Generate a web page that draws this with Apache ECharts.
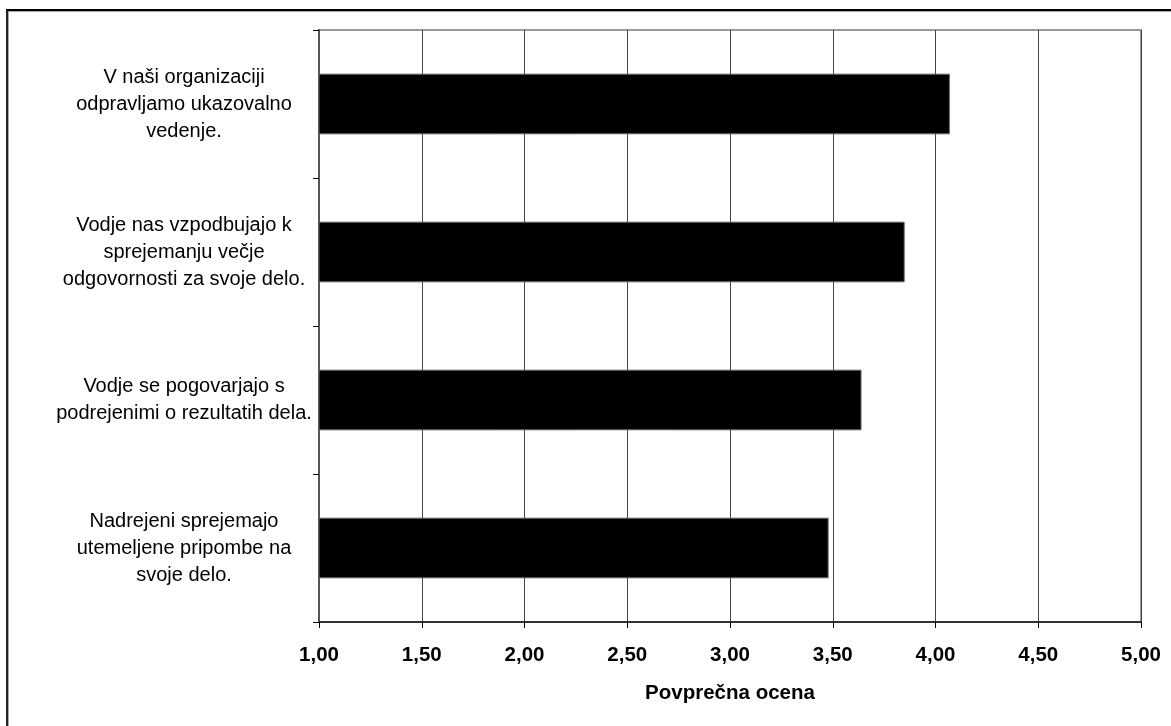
<!DOCTYPE html>
<html>
<head>
<meta charset="utf-8">
<script src="https://cdn.jsdelivr.net/npm/echarts@6/dist/echarts.min.js"></script>
<style>
  html, body { margin: 0; padding: 0; background: #fff; overflow: hidden; }
  #chart { position: absolute; left: 0; top: 0; width: 1171px; height: 726px; }
  #frame {
    position: absolute; left: 6px; top: 9px; width: 1300px; height: 900px;
    border-top: 2px solid #000; border-left: 2px solid #222;
    box-shadow: inset 1px 1px 0 #aaa; pointer-events: none;
  }
</style>
</head>
<body>
<div id="chart"></div>
<div id="frame"></div>
<script>
// Survey statements (top to bottom) and their mean scores
const statements = [
  'V naši organizaciji\nodpravljamo ukazovalno\nvedenje.',
  'Vodje nas vzpodbujajo k\nsprejemanju večje\nodgovornosti za svoje delo.',
  'Vodje se pogovarjajo s\npodrejenimi o rezultatih dela.',
  'Nadrejeni sprejemajo\nutemeljene pripombe na\nsvoje delo.'
];
const meanScores = [4.07, 3.85, 3.64, 3.48];
const axisTitle = 'Povprečna ocena';
const scaleMin = 1;
const scaleMax = 5;
const scaleStep = 0.5;

const chart = echarts.init(document.getElementById('chart'), null, { renderer: 'canvas' });
chart.setOption({
  animation: false,
  backgroundColor: '#fff',
  textStyle: { fontFamily: 'Arial, "Liberation Sans", sans-serif' },
  grid: {
    left: 319, right: 30, top: 30, bottom: 104,
    show: true, borderColor: '#999', borderWidth: 2, backgroundColor: 'transparent'
  },
  xAxis: {
    type: 'value',
    min: scaleMin, max: scaleMax, interval: scaleStep,
    axisLine: { show: true, onZero: false, lineStyle: { color: '#333', width: 2 } },
    axisTick: { show: true, length: 6, lineStyle: { color: '#000', width: 1 } },
    splitLine: { show: true, lineStyle: { color: '#444', width: 1 } },
    axisLabel: {
      color: '#000', fontSize: 20.5, fontWeight: 'bold', margin: 23,
      formatter: v => v.toFixed(2).replace('.', ',')
    },
    name: axisTitle,
    nameLocation: 'middle',
    nameGap: 61,
    nameTextStyle: { color: '#000', fontSize: 20.5, fontWeight: 'bold' }
  },
  yAxis: {
    type: 'category',
    data: statements,
    inverse: true,
    axisLine: { show: true, lineStyle: { color: '#555', width: 2 } },
    axisTick: { show: true, length: 6, lineStyle: { color: '#000', width: 1 } },
    splitLine: { show: false },
    axisLabel: {
      color: '#000', fontSize: 20, lineHeight: 27, align: 'center', margin: 135
    }
  },
  series: [{
    type: 'bar',
    data: meanScores,
    barWidth: '41%',
    itemStyle: { color: '#000', borderColor: '#666', borderWidth: 1 }
  }]
});
</script>
</body>
</html>
